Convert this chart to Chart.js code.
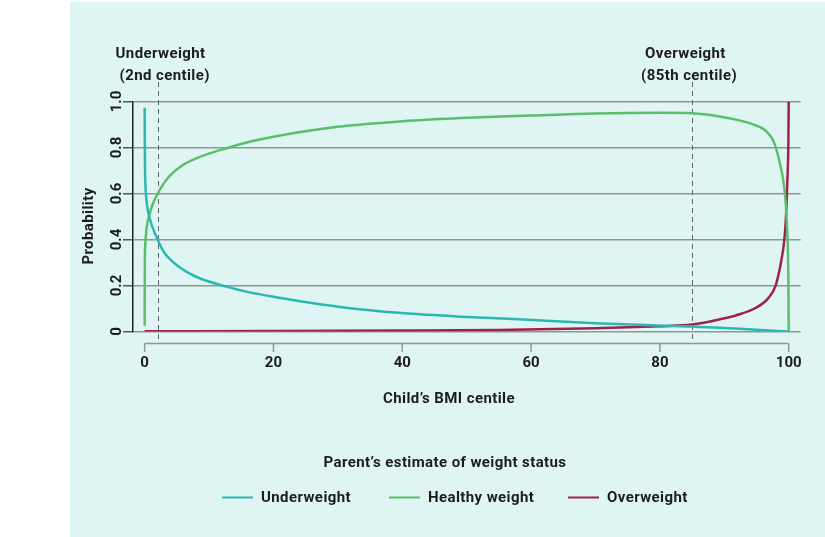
<!DOCTYPE html>
<html lang="en">
<head>
    <meta charset="UTF-8">
    <title>Parent's estimate of weight status</title>
    <script src="https://cdn.jsdelivr.net/npm/chart.js@4.4.1/dist/chart.umd.min.js"></script>
    <style>
        html, body{
            margin: 0;
            padding: 0;
            background-color: white;
        }
        .divGrafico{
            width: 825px;
            height: 537px;
        }
    </style>
</head>

<body>
    <div class="divGrafico">
        <canvas id="grafico" width="825" height="537"></canvas>
    </div>

    <script>
        // values
        let centileUnder = [0, 0.02, 0.05, 0.15, 0.3, 0.5, 0.8, 1.2, 2, 3, 5, 8, 12.7, 16.3, 20, 30, 40, 50, 58, 70, 80, 85, 90, 95, 100];
        let probUnder = [0.973, 0.85, 0.72, 0.62, 0.565, 0.525, 0.49, 0.455, 0.40, 0.345, 0.288, 0.238, 0.195, 0.17, 0.151, 0.108, 0.08, 0.063, 0.053, 0.036, 0.026, 0.022, 0.015, 0.008, 0.0];

        let centileHealthy = [0, 0.01, 0.03, 0.1, 0.3, 0.8, 1.2, 2, 3, 4, 6, 8, 12.7, 16.3, 20, 30, 40, 50, 60, 70, 80, 85, 89.5, 92, 94.7, 96, 96.8, 97.5, 98, 98.6, 99.1, 99.45, 99.7, 99.85, 99.95, 100];
        let probHealthy = [0.025, 0.15, 0.30, 0.38, 0.449, 0.514, 0.55, 0.598, 0.645, 0.68, 0.725, 0.753, 0.797, 0.825, 0.847, 0.89, 0.914, 0.929, 0.939, 0.948, 0.951, 0.949, 0.934, 0.92, 0.898, 0.882, 0.862, 0.835, 0.80, 0.735, 0.666, 0.59, 0.48, 0.38, 0.22, 0.0];

        let centileOver = [0, 20, 40, 55, 70, 80, 85, 89.5, 92, 94.7, 96.8, 98, 98.8, 99.25, 99.5, 99.7, 99.85, 99.95, 100];
        let probOver = [0.001, 0.002, 0.004, 0.007, 0.014, 0.023, 0.03, 0.054, 0.072, 0.1, 0.144, 0.202, 0.30, 0.38, 0.46, 0.58, 0.70, 0.82, 1.0];

        let seriesNames = ['Underweight', 'Healthy weight', 'Overweight'];
        let xTicks = [0, 20, 40, 60, 80, 100];
        let yTicks = [0, 0.2, 0.4, 0.6, 0.8, 1.0];
        let cutoffs = [2, 85];
        let cutoffLabels = [['Underweight', '(2nd centile)'], ['Overweight', '(85th centile)']];
        let xTitle = 'Child\u2019s BMI centile';
        let yTitle = 'Probability';
        let legendTitle = 'Parent\u2019s estimate of weight status';

        let cores = ['#2bb8b0', '#5cbd6b', '#a0214f'];
        let fonte = 'Roboto, "Liberation Sans", sans-serif';
        let texto = '#1c1c1c';

        function juntar(xs, ys) {
            return xs.map((x, i) => ({ x: x, y: ys[i] }));
        }

        let fundo = {
            id: 'fundo',
            beforeDraw(chart) {
                let ctx = chart.ctx;
                ctx.save();
                ctx.fillStyle = '#dff5f3';
                ctx.fillRect(70, 2, 755, 535);
                ctx.restore();
            }
        };

        let cortes = {
            id: 'cortes',
            beforeDatasetsDraw(chart) {
                let ctx = chart.ctx;
                let x = chart.scales.x;
                ctx.save();
                ctx.strokeStyle = '#5e6666';
                ctx.lineWidth = 1;
                ctx.setLineDash([5, 4]);
                cutoffs.forEach((c) => {
                    let px = Math.round(x.getPixelForValue(c)) + 0.5;
                    ctx.beginPath();
                    ctx.moveTo(px, 82);
                    ctx.lineTo(px, 343);
                    ctx.stroke();
                });
                ctx.restore();
            },
            afterDraw(chart) {
                let ctx = chart.ctx;
                let x = chart.scales.x;
                ctx.save();
                // eixo x solto, abaixo da area
                ctx.strokeStyle = '#8d9796';
                ctx.lineWidth = 1.5;
                ctx.beginPath();
                ctx.moveTo(x.getPixelForValue(0), 343.5);
                ctx.lineTo(x.getPixelForValue(100), 343.5);
                ctx.stroke();
                xTicks.forEach((t) => {
                    let px = x.getPixelForValue(t);
                    ctx.beginPath();
                    ctx.moveTo(px, 343.5);
                    ctx.lineTo(px, 352);
                    ctx.stroke();
                });

                ctx.fillStyle = texto;
                ctx.font = 'bold 15px ' + fonte;
                ctx.letterSpacing = '0.4px';
                ctx.textBaseline = 'alphabetic';
                ctx.textAlign = 'left';
                let offs = [[-42, -38], [-47, -51]];
                cutoffs.forEach((c, i) => {
                    let px = x.getPixelForValue(c);
                    ctx.fillText(cutoffLabels[i][0], px + offs[i][0], 58);
                    ctx.fillText(cutoffLabels[i][1], px + offs[i][1], 80);
                });

                ctx.textAlign = 'center';
                ctx.fillText(xTitle, 449, 403);
                ctx.fillText(legendTitle, 445, 467);

                ctx.save();
                ctx.translate(93, 226);
                ctx.rotate(-Math.PI / 2);
                ctx.fillText(yTitle, 0, 0);
                ctx.restore();

                // legenda
                let posLinha = [222, 389, 568];
                ctx.textAlign = 'left';
                chart.data.datasets.forEach((ds, i) => {
                    ctx.strokeStyle = ds.borderColor;
                    ctx.lineWidth = 2;
                    ctx.beginPath();
                    ctx.moveTo(posLinha[i], 497.5);
                    ctx.lineTo(posLinha[i] + 31, 497.5);
                    ctx.stroke();
                    ctx.fillText(ds.label, posLinha[i] + 39, 502);
                });
                ctx.restore();
            }
        };

        let ctxGrafico = document.getElementById('grafico');

        let grafico = new Chart(ctxGrafico, {
            type: 'scatter',
            data: {
                datasets: [{
                    label: seriesNames[0],
                    data: juntar(centileUnder, probUnder),
                    borderColor: cores[0],
                    backgroundColor: cores[0]
                }, {
                    label: seriesNames[1],
                    data: juntar(centileHealthy, probHealthy),
                    borderColor: cores[1],
                    backgroundColor: cores[1]
                }, {
                    label: seriesNames[2],
                    data: juntar(centileOver, probOver),
                    borderColor: cores[2],
                    backgroundColor: cores[2]
                }]
            },
            plugins: [fundo, cortes],
            options: {
                responsive: false,
                animation: false,
                showLine: true,
                layout: {
                    padding: { left: 0, right: 22, top: 101.5, bottom: 0 }
                },
                elements: {
                    point: { radius: 0 },
                    line: {
                        borderWidth: 2.5,
                        cubicInterpolationMode: 'monotone'
                    }
                },
                plugins: {
                    legend: { display: false },
                    tooltip: { enabled: false }
                },
                scales: {
                    x: {
                        type: 'linear',
                        min: -1.81,
                        max: 101.86,
                        afterBuildTicks: (s) => { s.ticks = xTicks.map((v) => ({ value: v })); },
                        afterFit: (s) => { s.height = 205.5; },
                        grid: { display: false, drawTicks: false },
                        border: { display: false },
                        ticks: {
                            padding: 23,
                            color: texto,
                            font: { family: fonte, size: 15, weight: 'bold' }
                        }
                    },
                    y: {
                        min: 0,
                        max: 1,
                        afterBuildTicks: (s) => { s.ticks = yTicks.map((v) => ({ value: v })); },
                        afterFit: (s) => { s.width = 133; },
                        grid: {
                            color: '#8d9796',
                            lineWidth: 1.5,
                            tickLength: 10,
                            tickColor: '#555'
                        },
                        border: { color: '#222', width: 1.5 },
                        ticks: {
                            minRotation: 90,
                            maxRotation: 90,
                            crossAlign: 'center',
                            padding: -5,
                            color: texto,
                            font: { family: fonte, size: 15, weight: 'bold' },
                            callback: (v) => v === 0 ? '0' : v.toFixed(1)
                        }
                    }
                }
            }
        });
    </script>
</body>

</html>
